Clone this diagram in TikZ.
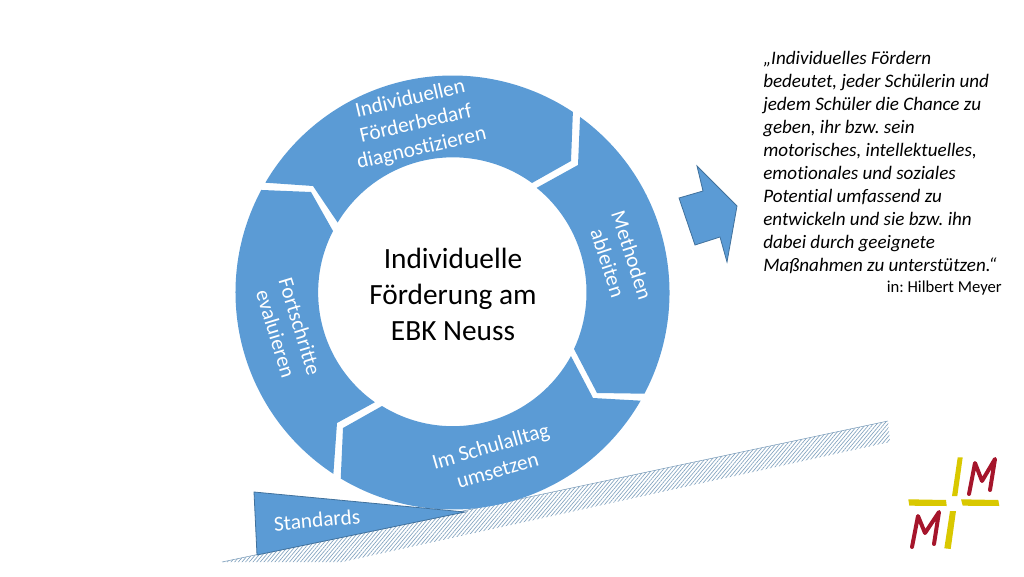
\documentclass[tikz,border=0pt]{standalone}
\usepackage{fontspec}
\setmainfont{Carlito}[Ligatures=NoCommon]
\usetikzlibrary{patterns.meta}
\definecolor{ringblue}{HTML}{5B9BD5}
\definecolor{edgeblue}{HTML}{41719C}
\definecolor{logored}{HTML}{A5152B}
\definecolor{logoyellow}{HTML}{D9C800}
\tikzset{
  seg/.style={fill=ringblue},
  segtext/.style={text=white, align=center, font=\fontsize{16}{19}\selectfont},
  logobar/.style={fill=logoyellow},
  logom/.style={draw=logored, line width=3pt, line join=round, line cap=round}
}
\frenchspacing

\begin{document}
\begin{tikzpicture}[x=0.75pt, y=0.75pt]
\useasboundingbox (0,0) rectangle (1024,576);
\coordinate (ringc) at (452.5,283.5);

% ramp
\path[pattern={Lines[angle=50,distance=2.1pt,line width=0.5pt]}, pattern color=edgeblue!65]
  (222,14) -- (888,155) -- (890,134) -- (342,14) -- cycle;
\draw[edgeblue!70, line width=0.4pt] (222,14) -- (888,155);

% ring segments
\fill[seg] (ringc) ++(149.6:217) arc[start angle=149.6, end angle=56.3, radius=217]
  -- (571,415) -- (532,393) arc[start angle=54, end angle=149, radius=134.5] -- (313,390) -- cycle;
\fill[seg] (ringc) ++(54:217) arc[start angle=54, end angle=-27.8, radius=217]
  -- (597,183) -- (574,227) arc[start angle=-24.9, end angle=51, radius=134.5] -- (578,411) -- cycle;
\fill[seg] (ringc) ++(-29.9:217) arc[start angle=-29.9, end angle=-121, radius=217]
  -- (343,148) -- (382,170) arc[start angle=238.2, end angle=331.4, radius=134.5] -- (593,178) -- cycle;
\fill[seg] (ringc) ++(236.7:217) arc[start angle=236.7, end angle=151.8, radius=217]
  -- (311,384) -- (333,345) arc[start angle=152.8, end angle=234.7, radius=134.5] -- (337,153) -- cycle;

% wedge and arrow
\draw[seg, draw=edgeblue, line width=0.6pt] (254,84) -- (465,64) -- (257,21) -- cycle;
\draw[seg, draw=edgeblue, line width=0.6pt] (679,378) -- (703,385) -- (697,410) -- (737,370)
  -- (727,314) -- (720,339) -- (695,331) -- cycle;

% texts
\node[segtext, rotate=13] (diagnose) at (416,452) {Individuellen\\Förderbedarf\\diagnostizieren};
\node[segtext, rotate=-72] (methoden) at (620,317) {Methoden\\ableiten};
\node[segtext, rotate=16] (umsetzen) at (494,118) {Im Schulalltag\\umsetzen};
\node[segtext, rotate=-73] (evaluieren) at (288,246) {Fortschritte\\evaluieren};
\node[segtext, rotate=5] (standards) at (317,56) {Standards};
\node[align=center, font=\fontsize{22}{27}\selectfont] (titel) at (453,282)
  {Individuelle\\Förderung am\\EBK Neuss};
\node[anchor=north west, inner sep=0pt, align=left, font=\fontsize{14.3}{17.25}\selectfont\itshape] (zitat) at (763,525)
  {„Individuelles Fördern\\bedeutet, jeder Schülerin und\\jedem Schüler die Chance zu\\geben, ihr bzw. sein\\motorisches, intellektuelles,\\emotionales und soziales\\Potential umfassend zu\\entwickeln und sie bzw. ihn\\dabei durch geeignete\\Maßnahmen zu unterstützen.“};
\node[anchor=east, inner sep=0pt, font=\fontsize{12.5}{15}\selectfont] (quelle) at (1002,288) {in: Hilbert Meyer};

% logo
\fill[logobar] (957.7,118.7) -- (962.7,118.7) -- (957.3,80) -- (952,80) -- cycle;
\fill[logobar] (908.3,76.7) -- (946,76) -- (946.7,70) -- (909.3,70.3) -- cycle;
\fill[logobar] (961,76.7) -- (998.3,76) -- (999.3,70) -- (962.7,70.3) -- cycle;
\fill[logobar] (950,65) -- (956,65) -- (950.7,27) -- (944.3,27.7) -- cycle;
\draw[logom] (969,82) -- (975,113) -- (982,95) -- (995,117) -- (990,86);
\draw[logom] (912,29) -- (918,60) -- (925,43) -- (939,64) -- (934,32);
\end{tikzpicture}
\end{document}
